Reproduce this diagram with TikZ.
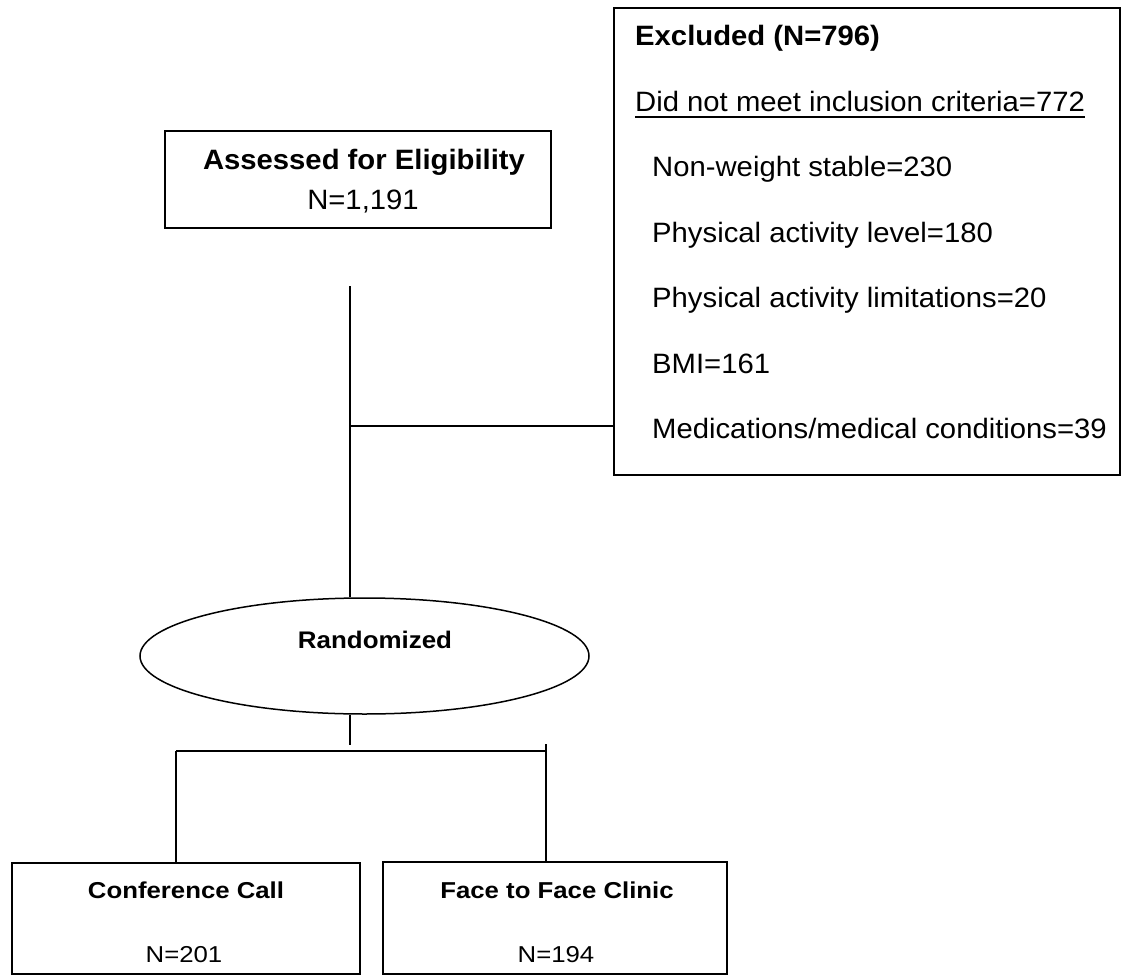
\documentclass[tikz,border=0pt]{standalone}
\usepackage{fontspec}
\setmainfont{Liberation Sans}
\usetikzlibrary{shapes.geometric}
\newcommand{\wideA}[1]{\scalebox{1.045}[1]{#1}}
\newcommand{\wideB}[1]{\scalebox{1.08}[1]{#1}}
\newcommand{\wideC}[1]{\scalebox{1.12}[1]{#1}}
\begin{document}
\begin{tikzpicture}[x=1pt,y=-1pt,
  box/.style={draw, line width=1.8pt, inner sep=0pt},
  oval/.style={draw, ellipse, line width=1.5pt, inner sep=0pt},
  conn/.style={line width=1.5pt},
  big/.style={inner sep=0pt, font=\fontsize{28}{34}\selectfont},
  bigb/.style={inner sep=0pt, font=\fontsize{28}{34}\selectfont\bfseries},
  midb/.style={inner sep=0pt, font=\fontsize{24}{30}\selectfont\bfseries},
  smallt/.style={inner sep=0pt, font=\fontsize{23}{28}\selectfont},
  smallb/.style={inner sep=0pt, font=\fontsize{23}{28}\selectfont\bfseries}]
\useasboundingbox (0,0) rectangle (1131,976);

% boxes
\node[box, minimum width=386pt, minimum height=97pt] (assess) at (358,179.5) {};
\node[box, minimum width=506pt, minimum height=467pt] (excl) at (867,241.5) {};
\node[oval, minimum width=449pt, minimum height=116pt] (rand) at (364.5,656) {};
\node[box, minimum width=348pt, minimum height=111pt] (conf) at (186,918.5) {};
\node[box, minimum width=344pt, minimum height=112pt] (face) at (555,918) {};

% texts
\node[bigb, anchor=base] (ta1) at (364,170) {\wideA{Assessed for Eligibility}};
\node[big, anchor=base] (ta2) at (363,210) {\wideA{N=1,191}};

\node[bigb, anchor=base west] (e1) at (635,46) {\wideA{Excluded (N=796)}};
\node[big, anchor=base west] (e2) at (635,112) {\wideA{Did not meet inclusion criteria=772}};
\draw[line width=1.4pt] ([yshift=-5pt]e2.base west) -- ([yshift=-5pt]e2.base east);
\node[big, anchor=base west] (e3) at (652,177) {\wideA{Non-weight stable=230}};
\node[big, anchor=base west] (e4) at (652,242) {\wideA{Physical activity level=180}};
\node[big, anchor=base west] (e5) at (652,307) {\wideA{Physical activity limitations=20}};
\node[big, anchor=base west] (e6) at (652,373) {\wideA{BMI=161}};
\node[big, anchor=base west] (e7) at (652,438) {\wideA{Medications/medical conditions=39}};

\node[midb, anchor=base] (tr) at (375,648) {\wideB{Randomized}};

\node[smallb, anchor=base] (c1) at (186,898) {\wideC{Conference Call}};
\node[smallt, anchor=base] (c2) at (184,962) {\wideC{N=201}};
\node[smallb, anchor=base] (f1) at (557,898) {\wideC{Face to Face Clinic}};
\node[smallt, anchor=base] (f2) at (556,962) {\wideC{N=194}};

% connectors
\coordinate (a0) at (350,286);
\coordinate (j1) at (350,426);
\coordinate (b0) at (350,745);
\coordinate (hl) at (176,751);
\coordinate (hr) at (546,751);
\coordinate (rt) at (546,744);

\draw[conn] (a0) -- (a0 |- rand.north);
\draw[conn] (j1) -- (j1 -| excl.west);
\draw[conn] (b0 |- rand.south) -- (b0);
\draw[conn] (hl) -- (hr);
\draw[conn] (rt) -- (rt |- face.north);
\draw[conn] (hl) -- (hl |- conf.north);
\end{tikzpicture}
\end{document}
